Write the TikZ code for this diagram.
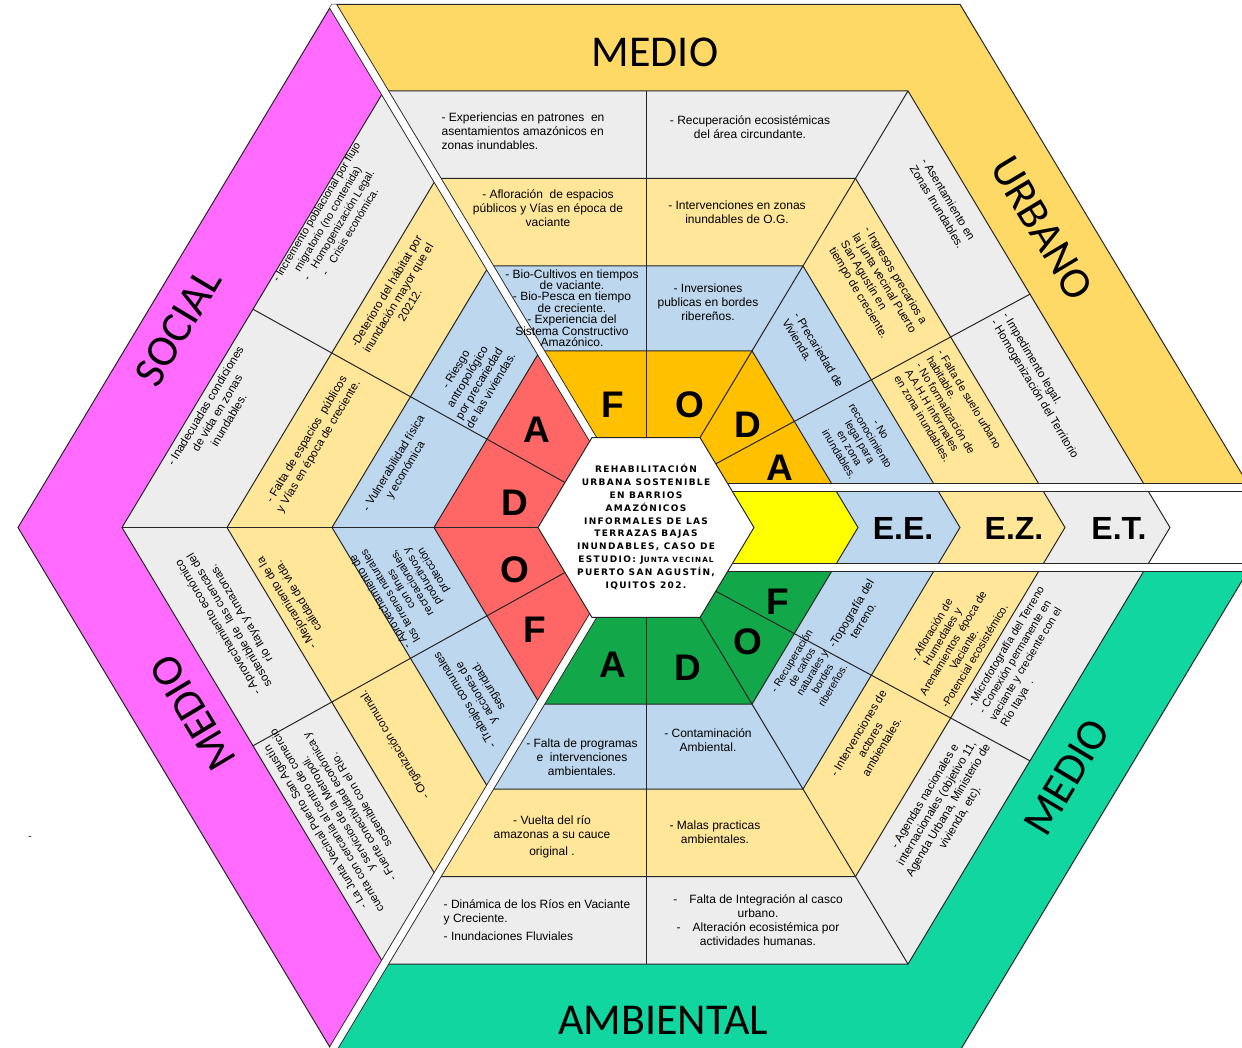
\documentclass[tikz,border=0pt]{standalone}
\usepackage{fontspec}
\setmainfont{Liberation Sans}
\newfontfamily\bandfont{Carlito}
\newfontfamily\ctrfont[LetterSpace=15]{DejaVu Sans}
\definecolor{cmag}{HTML}{FF6BFF}
\definecolor{cgold}{HTML}{FFD966}
\definecolor{cteal}{HTML}{12D6A0}
\definecolor{cyel}{HTML}{FFE699}
\definecolor{cblu}{HTML}{BDD7EE}
\definecolor{cgry}{HTML}{EDEDED}
\definecolor{corg}{HTML}{FFC000}
\definecolor{cred}{HTML}{FF6666}
\definecolor{cgrn}{HTML}{12A84A}
\definecolor{cylw}{HTML}{FFFF00}
\definecolor{lin}{HTML}{262626}
\newcommand{\hexp}[1]{(0:#1)--(60:#1)--(120:#1)--(180:#1)--(240:#1)--(300:#1)--cycle}
\newcommand{\secfill}[2]{%
  \begin{scope}[yscale=0.962]
    \fill[#1] \hexp{628};
    \fill[cgry] \hexp{524};
    \fill[cyel] \hexp{419};
    \fill[cblu] \hexp{314};
    \fill[#2] \hexp{212};
  \end{scope}}
\begin{document}
\begin{tikzpicture}[x=1pt,y=1pt,
  ct/.style={font=\fontsize{12}{14}\selectfont, align=center, inner sep=0pt},
  cs/.style={font=\fontsize{11.5}{13.6}\selectfont, align=center, inner sep=0pt},
  big/.style={font=\bandfont\fontsize{44}{44}\selectfont, inner sep=0pt},
  lett/.style={font=\bfseries\fontsize{37}{37}\selectfont, inner sep=0pt},
  arrl/.style={font=\bfseries\fontsize{32}{32}\selectfont, inner sep=0pt},
  cl/.style={line width=1pt, draw=lin},
]
\useasboundingbox (-646,-519.5) rectangle (596,527.5);
\clip (-646,-519.5) rectangle (596,527.5);

% ---------- sector fills ----------
\begin{scope}
  \clip (0,0)--(-771.9,1286.4)--(1500,1500)--(1500,40)--(0,40)--cycle;
  \secfill{cgold}{corg}
\end{scope}
\begin{scope}
  \clip (0,0)--(-771.9,1286.4)--(-1500,1286.4)--(-1500,-1286.4)--(-771.9,-1286.4)--cycle;
  \secfill{cmag}{cred}
\end{scope}
\begin{scope}
  \clip (0,0)--(-771.9,-1286.4)--(1500,-1500)--(1500,-40)--(0,-40)--cycle;
  \secfill{cteal}{cgrn}
\end{scope}
\begin{scope}
  \clip (0,-40) rectangle (1500,40);
  \secfill{white}{cylw}
\end{scope}

% ---------- cell lines ----------
\begin{scope}[yscale=0.962]
  \draw[cl] \hexp{212};
  \draw[cl] \hexp{314};
  \draw[cl] \hexp{419};
  \draw[cl] \hexp{524};
  \draw[cl] \hexp{628};
  \draw[cl] (0,0)--(60:524);
  \draw[cl] (0,0)--(90:453.8);
  \draw[cl] (0,0)--(150:453.8);
  \draw[cl] (0,0)--(180:524);
  \draw[cl] (0,0)--(210:453.8);
  \draw[cl] (0,0)--(270:453.8);
  \draw[cl] (0,0)--(300:524);
\end{scope}
\begin{scope}
  \clip[yscale=0.962] \hexp{524};
  \draw[cl] (0,26)--(1500,836);
  \draw[cl] (0,-26)--(1500,-836);
\end{scope}

% ---------- white separators ----------
\begin{scope}
  \clip[yscale=0.962] \hexp{628};
  \draw[line width=8.8pt, lin] (0,0)--(-314,523.2);
  \draw[line width=7pt, white] (0,0)--(-314,523.2);
  \draw[line width=8.8pt, lin] (0,0)--(-314,-523.2);
  \draw[line width=7pt, white] (0,0)--(-314,-523.2);
  \draw[line width=8.8pt, lin] (0,40)--(700,40);
  \draw[line width=7pt, white] (0,40)--(700,40);
  \draw[line width=8.8pt, lin] (0,-40)--(700,-40);
  \draw[line width=7pt, white] (0,-40)--(700,-40);
\end{scope}

% ---------- centre ----------
\draw[cl, fill=white, yscale=0.962] \hexp{108};

% ---------- texts (screen coordinates) ----------
\begin{scope}[shift={(-646,527.5)}, y=-1pt]
  \node[font=\ctrfont\bfseries\fontsize{9}{12.9}\selectfont, align=center, inner sep=0pt] (ctr) at (646,527)
    {REHABILITACIÓN\\URBANA SOSTENIBLE\\EN BARRIOS\\AMAZÓNICOS\\INFORMALES DE LAS\\TERRAZAS BAJAS\\INUNDABLES, CASO DE\\ESTUDIO: J{\fontsize{7.2}{12.9}\selectfont UNTA VECINAL}\\PUERTO SAN AGUSTÍN,\\IQUITOS 202.};

  % band labels
  \node[big] (lb1) at (655,52) {MEDIO};
  \node[big, rotate=-59] (lb2) at (1042,228) {URBANO};
  \node[big, rotate=59] (lb3) at (178,327) {SOCIAL};
  \node[big, rotate=121] (lb4) at (193,713) {MEDIO};
  \node[big, rotate=59] (lb5) at (1067,777) {MEDIO};
  \node[big] (lb6) at (663,1020) {AMBIENTAL};

  % FODA letters
  \node[lett] (ra) at (537,430) {A};
  \node[lett] (rd) at (515,503) {D};
  \node[lett] (ro) at (515,570) {O};
  \node[lett] (rf) at (535,630) {F};
  \node[lett] (of) at (613,405) {F};
  \node[lett] (oo) at (690,405) {O};
  \node[lett] (od) at (748,425) {D};
  \node[lett] (oa) at (780,468) {A};
  \node[lett] (gf) at (778,602) {F};
  \node[lett] (go) at (748,642) {O};
  \node[lett] (gd) at (688,668) {D};
  \node[lett] (ga) at (613,665) {A};

  % arrow labels
  \node[arrl] (ee) at (903,528) {E.E.};
  \node[arrl] (ez) at (1014,528) {E.Z.};
  \node[arrl] (et) at (1119,528) {E.T.};

  % top side
  \node[ct, align=left] (t1) at (523,131) {- Experiencias en patrones\ \ en\\asentamientos amazónicos en\\zonas inundables.};
  \node[ct] (t2) at (750,127) {- Recuperación ecosistémicas\\del área circundante.};
  \node[ct] (t3) at (548,208) {- Afloración\ \ de espacios\\públicos y Vías en época de\\vaciante};
  \node[ct] (t4) at (737,212) {- Intervenciones en zonas\\inundables de O.G.};
  \node[ct, font=\fontsize{12}{11.4}\selectfont] (t5) at (572,308) {- Bio-Cultivos en tiempos\\de vaciante.\\- Bio-Pesca en tiempo\\de creciente.\\- Experiencia del\\Sistema Constructivo\\Amazónico.};
  \node[ct] (t6) at (708,302) {- Inversiones\\publicas en bordes\\ribereños.};

  % upper-right side
  \node[cs, rotate=-59, align=left] (u1) at (943,203) {- Asentamiento en\\Zonas Inundables.};
  \node[cs, rotate=-59, align=left] (u2) at (1040,386) {- Impedimento legal.\\- Homogenización del Territorio};
  \node[cs, rotate=-59, align=left] (u3) at (878,287) {- Ingresos precarios a\\la junta vecinal Puerto\\San Agustín en\\tiempo de creciente.};
  \node[cs, rotate=-59, align=left, font=\fontsize{11}{12.6}\selectfont] (u4) at (948,412) {- Falta de suelo urbano\\habitable.\\- No formalización de\\A.A.H.H informales\\en zona inundables.};
  \node[cs, rotate=-59, align=left] (u5) at (813,353) {- Precariedad de\\Vivienda.};
  \node[cs, rotate=-59, font=\fontsize{10.8}{12.2}\selectfont] (u6) at (860,442) {- No\\reconocimiento\\legal para\\en zona\\inundables.};

  % upper-left side
  \node[cs, rotate=59, font=\fontsize{10.8}{13}\selectfont] (l1) at (333,222) {- Incremento poblacional por flujo\\migratorio (no contenida)\\-\quad Homogenización Legal.\\-\quad Crisis económica.};
  \node[cs, rotate=59] (l2) at (217,413) {- Inadecuadas condiciones\\de vida en zonas\\inundables.};
  \node[cs, rotate=59] (l3) at (398,298) {-Deterioro del hábitat por\\inundación mayor que el\\20212.};
  \node[cs, rotate=59] (l4) at (313,443) {- Falta de espacios\ \ públicos\\y Vías en época de creciente.};
  \node[cs, rotate=59] (l5) at (473,380) {- Riesgo\\antropológico\\por precariedad\\de las viviendas.};
  \node[cs, rotate=59] (l6) at (400,467) {- Vulnerabilidad física\\y económica};

  % lower-left side
  \node[cs, rotate=121, font=\fontsize{11.2}{13.4}\selectfont] (d1) at (338,814) {- La Junta Vecinal Puerto San Agustín\\cuenta con cercanía al centro de comercio\\y servicios de la Metropoli.\\- Fuerte conectividad económica y\\sostenible con el Río.};
  \node[cs, rotate=121] (d2) at (230,620) {- Aprovechamiento económico\\sostenible de\ \ las cuencas del\\río Itaya y Amazonas.};
  \node[cs, rotate=121] (d3) at (292,600) {- Mejoramiento de la\\calidad de vida.};
  \node[cs, rotate=121] (d4) at (395,745) {- Organización comunal.};
  \node[cs, rotate=121, font=\fontsize{11}{12.4}\selectfont] (d5) at (407,586) {- Aprovechamiento de\\los terrenos naturales\\con fines\\recreacionales,\\productivos y\\protección};
  \node[cs, rotate=121] (d6) at (477,693) {- Trabajos comunales\\y acciones de\\seguridad.};

  % bottom side
  \node[ct] (b1) at (582,757) {- Falta de programas\\e\ \ intervenciones\\ambientales.};
  \node[ct] (b2) at (708,740) {- Contaminación\\Ambiental.};
  \node[ct] (b3) at (552,837) {- Vuelta del río\\amazonas a su cauce\\[3pt]original .};
  \node[ct] (b4) at (715,832) {- Malas practicas\\ambientales.};
  \node[ct, align=left] (b5) at (537,920) {- Dinámica de los Ríos en Vaciante\\y Creciente.\\[4pt]- Inundaciones Fluviales};
  \node[ct] (b6) at (758,920) {-\quad Falta de Integración al casco\\urbano.\\-\quad Alteración ecosistémica por\\actividades humanas.};

  % lower-right side
  \node[cs, rotate=59, font=\fontsize{10.5}{12}\selectfont] (r1) at (812,673) {- Recuperación\\de caños\\naturales y\\bordes\\ribereños.};
  \node[cs, rotate=59] (r2) at (857,617) {-Topografía del\\terreno.};
  \node[cs, rotate=59, font=\fontsize{11}{12.6}\selectfont] (r3) at (953,643) {- Afloración de\\Humedales y\\Arenamientos\ \ época de\\Vaciante.\\-Potencial ecosistémico.};
  \node[cs, rotate=59] (r4) at (870,740) {- Intervenciones de\\actores\\ambientales.};
  \node[cs, rotate=59, align=left, font=\fontsize{11}{12.8}\selectfont] (r5) at (1023,657) {- Microfotografía del Terreno\\- Conexión permanente en\\vaciante y creciente con el\\Río Itaya\ \ .};
  \node[cs, rotate=59] (r6) at (943,807) {- Agendas nacionales e\\internacionales (objetivo 11,\\Agenda Urbana, Ministerio de\\vivienda, etc).};

  \node[font=\fontsize{10}{10}\selectfont, inner sep=0pt] (dash) at (30,838) {-};
\end{scope}
\end{tikzpicture}
\end{document}
